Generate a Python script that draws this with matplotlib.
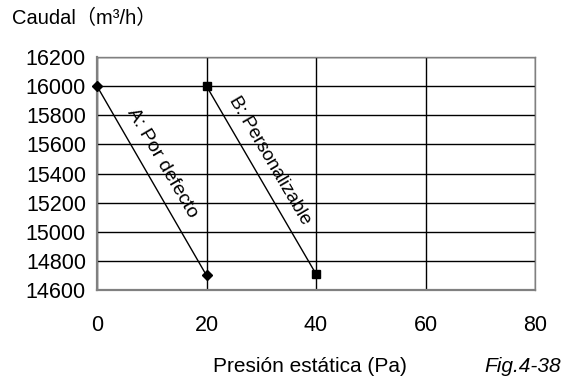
import matplotlib
matplotlib.use("Agg")
import matplotlib.pyplot as plt
import numpy as np

plt.rcParams['font.family'] = ['Liberation Sans', 'Noto Sans CJK SC', 'DejaVu Sans']

# datos
pres_a = [0, 20]
caudal_a = [16000, 14700]
pres_b = [20, 40]
caudal_b = [16000, 14710]
xticks = [0, 20, 40, 60, 80]
yticks = [14600, 14800, 15000, 15200, 15400, 15600, 15800, 16000, 16200]

fig = plt.figure(figsize=(5.76, 3.83), dpi=100)
ax = fig.add_axes([97/576, 1 - 290/383, (535-97)/576, (290-57)/383])

ax.set_xlim(0, 80)
ax.set_ylim(14600, 16200)
ax.set_xticks(xticks)
ax.set_yticks(yticks)
ax.grid(True, color='black', linewidth=1.0)
ax.tick_params(length=0, labelsize=15.5)
ax.tick_params(axis='y', pad=8)
ax.tick_params(axis='x', pad=18)
for s in ['left', 'bottom']:
    ax.spines[s].set_color('#808080')
    ax.spines[s].set_linewidth(1.6)
for s in ['top', 'right']:
    ax.spines[s].set_color('#808080')
    ax.spines[s].set_linewidth(1.0)

ax.plot(pres_a, caudal_a, color='black', linewidth=1.0, marker='D', markersize=5, clip_on=False, zorder=5)
ax.plot(pres_b, caudal_b, color='black', linewidth=1.0, marker='s', markersize=6, clip_on=False, zorder=5)

ang = -59.6
ax.text(11.9, 15472, "A: Por defecto", rotation=ang, ha='center', va='center', fontsize=14)
ax.text(31.6, 15492, "B: Personalizable", rotation=ang, ha='center', va='center', fontsize=13.5)

fig.text(12/576, 1 - 18/383, "Caudal（m³/h）", fontsize=14.5, ha='left', va='center')
fig.text(310/576, 1 - 367/383, "Presión estática (Pa)", fontsize=15, ha='center', va='center')
fig.text(523/576, 1 - 367/383, "Fig.4-38", fontsize=15, ha='center', va='center', style='italic')

fig.savefig("out.png", dpi=100)
